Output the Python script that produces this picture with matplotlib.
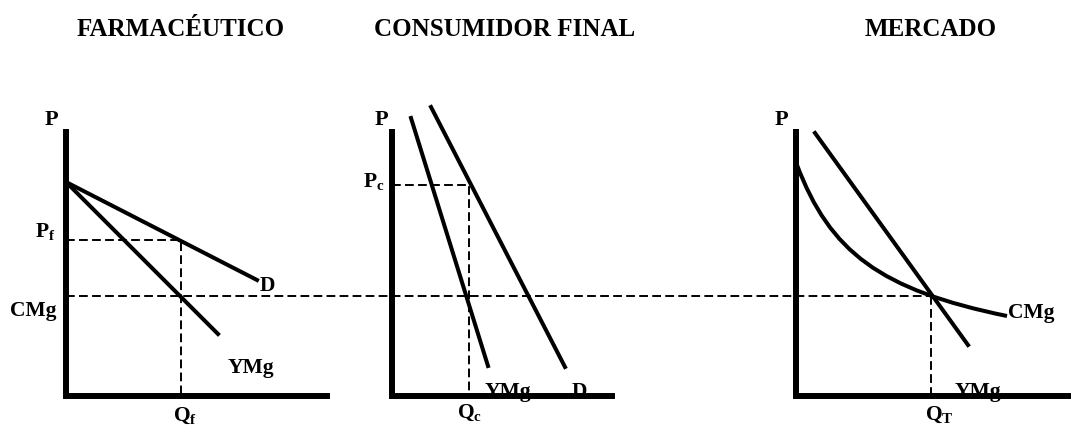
import matplotlib
matplotlib.use("Agg")
import matplotlib.pyplot as plt
from matplotlib.path import Path
from matplotlib.patches import PathPatch

plt.rcParams['font.family'] = ['Liberation Serif', 'DejaVu Serif']
plt.rcParams['mathtext.fontset'] = 'custom'
plt.rcParams['mathtext.rm'] = 'Liberation Serif:bold'
plt.rcParams['mathtext.bf'] = 'Liberation Serif:bold'
plt.rcParams['mathtext.it'] = 'Liberation Serif:bold'

# diagram geometry in pixel units (y grows downward)
titles = ["FARMACÉUTICO", "CONSUMIDOR FINAL", "MERCADO"]
title_x = [181, 505, 931]
axis_x0 = [66, 392, 796]
axis_x1 = [330, 615, 1071]
axis_top = [129, 129, 129]
axis_bottom = 396
p_label_x = [51, 381, 781]

# panel 1: demand and marginal revenue
d1_x = [66, 257]
d1_y = [182, 280]
ymg1_x = [66, 218]
ymg1_y = [182, 334]
q_f, p_f = 181, 240

# panel 2
ymg2_x = [411, 488]
ymg2_y = [118, 366]
d2_x = [431, 565]
d2_y = [107, 367]
q_c, p_c = 469, 185

# panel 3
ymg3_x = [815, 968]
ymg3_y = [133, 345]
cmg_pts = [(797, 165), (830, 252), (880, 290), (1007, 316)]
q_t = 931

cmg_level = 296

fig = plt.figure(figsize=(10.71, 4.25), dpi=100)
ax = fig.add_axes([0, 0, 1, 1])
ax.set_xlim(0, 1071)
ax.set_ylim(425, 0)
ax.axis('off')

thick = 4.3
mid = 2.9
dash = dict(color='black', lw=1.4, ls=(0, (4.5, 2.2)))

for t, x in zip(titles, title_x):
    ax.text(x, 36, t, ha='center', va='baseline', fontsize=18, fontweight='bold')

for x0, x1, top, px in zip(axis_x0, axis_x1, axis_top, p_label_x):
    ax.plot([x0, x0, x1], [top, axis_bottom, axis_bottom], color='black',
            lw=thick, solid_joinstyle='miter', solid_capstyle='butt', zorder=3)
    ax.text(px, 125, "P", ha='center', va='baseline', fontsize=16, fontweight='bold')

# dashed guides
ax.plot([axis_x0[0], q_t], [cmg_level, cmg_level], **dash)
ax.plot([axis_x0[0], q_f, q_f], [p_f, p_f, axis_bottom], **dash)
ax.plot([axis_x0[1], q_c, q_c], [p_c, p_c, axis_bottom], **dash)
ax.plot([q_t, q_t], [cmg_level, axis_bottom], **dash)

# curves
ax.plot(d1_x, d1_y, color='black', lw=mid)
ax.plot(ymg1_x, ymg1_y, color='black', lw=mid)
ax.plot(ymg2_x, ymg2_y, color='black', lw=mid)
ax.plot(d2_x, d2_y, color='black', lw=mid)
ax.plot(ymg3_x, ymg3_y, color='black', lw=mid)
path = Path(cmg_pts, [Path.MOVETO, Path.CURVE4, Path.CURVE4, Path.CURVE4])
ax.add_patch(PathPatch(path, fill=False, color='black', lw=mid))

# labels
lab = dict(fontsize=15.5, fontweight='bold', va='baseline', ha='left')
ax.text(35, 237, r'$\mathrm{P}_{\mathrm{f}}$', **lab)
ax.text(10, 316, "CMg", **lab)
ax.text(260, 291, "D", **lab)
ax.text(228, 373, "YMg", **lab)
ax.text(173, 421, r'$\mathrm{Q}_{\mathrm{f}}$', **lab)

ax.text(363, 187, r'$\mathrm{P}_{\mathrm{c}}$', **lab)
ax.text(485, 397, "YMg", zorder=1, **lab)
ax.text(572, 397, "D", zorder=1, **lab)
ax.text(457, 418, r'$\mathrm{Q}_{\mathrm{c}}$', **lab)

ax.text(1008, 318, "CMg", **lab)
ax.text(955, 397, "YMg", zorder=1, **lab)
ax.text(925, 420, r'$\mathrm{Q}_{\mathrm{T}}$', **lab)

fig.savefig("out.png", dpi=100)
